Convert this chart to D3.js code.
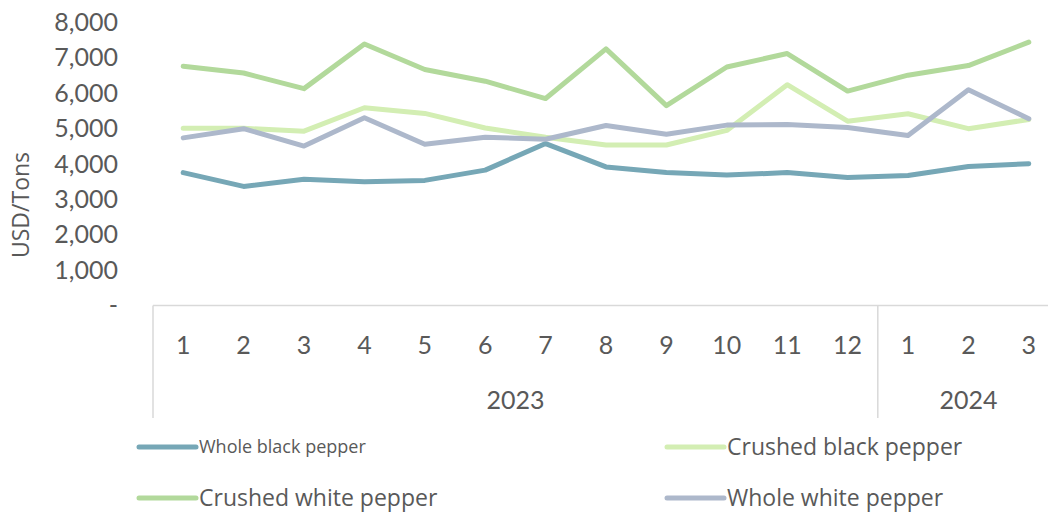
<!DOCTYPE html>
<html><head><meta charset="utf-8">
<script src="https://cdn.jsdelivr.net/npm/d3@7"></script>
<style>body{margin:0;background:#fff}svg{display:block}</style>
</head><body><svg id="c" width="1048" height="512"></svg>
<script>
const months = ["1","2","3","4","5","6","7","8","9","10","11","12","1","2","3"];
const years = ["2023","2024"];
const yearMonthCounts = [12, 3];
const yTicks = [0,1000,2000,3000,4000,5000,6000,7000,8000];
const seriesNames = ["Whole black pepper","Crushed black pepper","Crushed white pepper","Whole white pepper"];
const wholeBlack   = [3750,3360,3560,3490,3530,3820,4570,3910,3750,3680,3750,3610,3670,3920,4000];
const crushedBlack = [5000,5000,4920,5580,5420,5010,4750,4530,4530,4940,6230,5200,5410,4990,5250];
const crushedWhite = [6750,6560,6120,7380,6660,6330,5840,7240,5640,6730,7110,6050,6500,6770,7430];
const wholeWhite   = [4730,4990,4500,5300,4550,4750,4690,5080,4830,5090,5110,5020,4800,6090,5270];
const colors = ["#76a7b6","#d3eeb3","#b2d99b","#adb8cb"];

const series = [wholeBlack, crushedBlack, crushedWhite, wholeWhite];
const svg = d3.select("#c");
const textColor = "#595959";
const axisColor = "#d9d9d9";

const x = d3.scaleBand().domain(d3.range(months.length)).range([153, 153 + 15*60.4]);
const y = d3.scaleLinear().domain([0, 8000]).range([305.5, 22]);

// Y labels
svg.append("g").selectAll("text").data(yTicks).join("text")
  .attr("x", 118).attr("y", d => y(d)).attr("dy", "0.35em")
  .attr("text-anchor", "end")
  .attr("font-family", "Lato").attr("font-size", 25).attr("fill", textColor)
  .text(d => d === 0 ? "-" : d3.format(",")(d));

svg.append("text")
  .attr("transform", "translate(21,205) rotate(-90)")
  .attr("text-anchor", "middle").attr("dy", "0.35em")
  .attr("font-family", "Open Sans").attr("font-size", 23).attr("fill", textColor)
  .text("USD/Tons");

// Category axis
const axisG = svg.append("g");
axisG.append("line").attr("x1", x.range()[0]).attr("x2", 1048)
  .attr("y1", 305.5).attr("y2", 305.5).attr("stroke", axisColor).attr("stroke-width", 1.5);
let start = 0;
const boundaries = [0];
yearMonthCounts.forEach(c => { start += c; boundaries.push(start); });
boundaries.forEach(b => {
  const bx = b < months.length ? x(b) : x.range()[1];
  if (bx <= 1048) axisG.append("line").attr("x1", bx).attr("x2", bx)
    .attr("y1", 305.5).attr("y2", 418).attr("stroke", axisColor).attr("stroke-width", 1.5);
});
axisG.selectAll("text.m").data(months).join("text").attr("class","m")
  .attr("x", (d,i) => x(i) + x.bandwidth()/2).attr("y", 345).attr("dy", "0.35em")
  .attr("text-anchor", "middle")
  .attr("font-family", "Lato").attr("font-size", 25).attr("fill", textColor)
  .text(d => d);
axisG.selectAll("text.yr").data(years).join("text").attr("class","yr")
  .attr("x", (d,i) => (x(boundaries[i]) + x(boundaries[i+1]-1) + x.bandwidth())/2)
  .attr("y", 400).attr("dy", "0.35em")
  .attr("text-anchor", "middle")
  .attr("font-family", "Lato").attr("font-size", 25).attr("fill", textColor)
  .text(d => d);

// Lines
const line = d3.line().x((d,i) => x(i) + x.bandwidth()/2).y(d => y(d));
svg.append("g").selectAll("path").data(series).join("path")
  .attr("d", line).attr("fill", "none")
  .attr("stroke", (d,i) => colors[i]).attr("stroke-width", 5)
  .attr("stroke-linejoin", "round").attr("stroke-linecap", "round");

// Legend
const legendPos = [[139,447,18],[667,447,23],[139,498,23],[667,498,23]];
const lg = svg.append("g").selectAll("g").data(seriesNames).join("g")
  .attr("transform", (d,i) => `translate(${legendPos[i][0]},${legendPos[i][1]})`);
lg.append("line").attr("x1", 0).attr("x2", 57).attr("y1", 0).attr("y2", 0)
  .attr("stroke", (d,i) => colors[i]).attr("stroke-width", 5).attr("stroke-linecap", "round");
lg.append("text").attr("x", 60).attr("y", 0).attr("dy", "0.35em")
  .attr("font-family", "Open Sans").attr("font-size", (d,i) => legendPos[i][2])
  .attr("fill", textColor).text(d => d);
</script></body></html>
